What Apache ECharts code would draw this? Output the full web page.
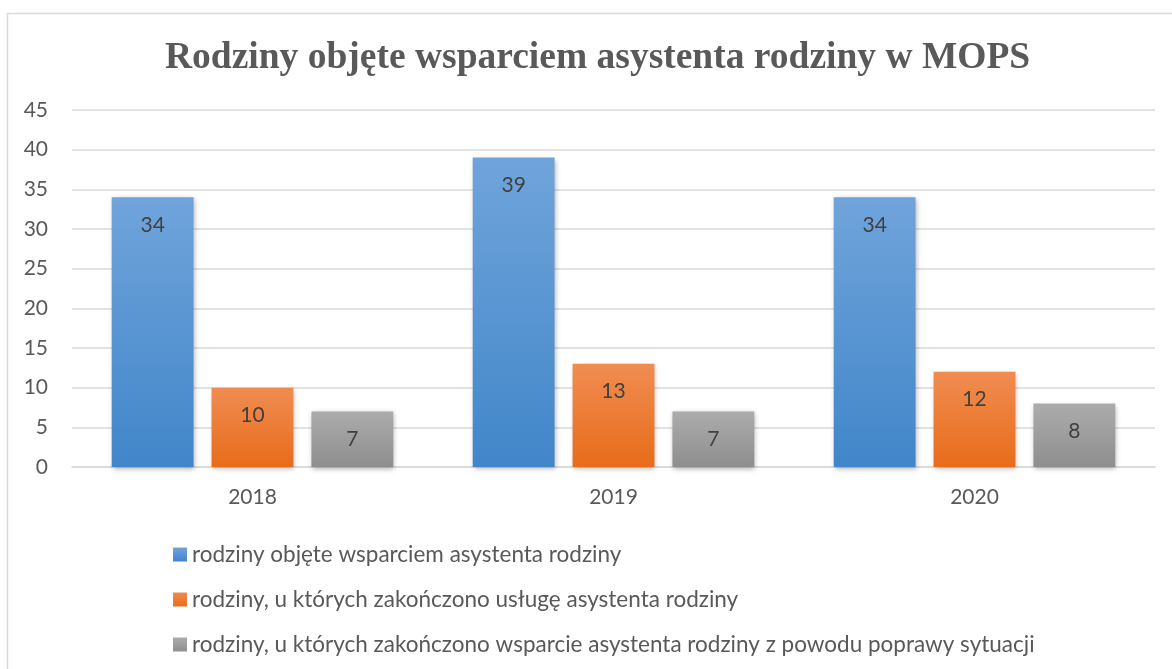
<!DOCTYPE html>
<html><head><meta charset="utf-8">
<script src="https://cdn.jsdelivr.net/npm/echarts@6/dist/echarts.min.js"></script>
<style>html,body{margin:0;padding:0;background:#fff}#c{width:1172px;height:669px}</style>
</head><body><div id="c"></div>
<script>
const title = 'Rodziny objęte wsparciem asystenta rodziny w MOPS';
const categories = ['2018', '2019', '2020'];
const seriesNames = [
  'rodziny objęte wsparciem asystenta rodziny',
  'rodziny, u których zakończono usługę asystenta rodziny',
  'rodziny, u których zakończono wsparcie asystenta rodziny z powodu poprawy sytuacji'
];
const supported = [34, 39, 34];
const ended = [10, 13, 12];
const improved = [7, 7, 8];
const yTicks = [0, 5, 10, 15, 20, 25, 30, 35, 40, 45];

const font = "Lato, 'Open Sans', sans-serif";
function grad(top, bottom) {
  return new echarts.graphic.LinearGradient(0, 0, 0, 1, [{offset: 0, color: top}, {offset: 1, color: bottom}]);
}
const fills = [grad('#70a4db', '#4186c9'), grad('#f08c52', '#e86c1a'), grad('#acacac', '#8e8e8e')];
const data = [supported, ended, improved];

const chart = echarts.init(document.getElementById('c'), null, {renderer: 'canvas'});
chart.setOption({
  animation: false,
  backgroundColor: '#fff',
  graphic: [{type: 'rect', shape: {x: 7.5, y: 13.5, width: 1200, height: 700}, style: {fill: 'none', stroke: '#d9d9d9', lineWidth: 1.5}, silent: true}],
  title: {text: title, left: 160, top: 34, textStyle: {fontFamily: "'Liberation Serif', 'DejaVu Serif', serif", fontWeight: 'bold', fontSize: 37.5, color: '#595959'}},
  grid: {left: 72, right: 17, top: 110, bottom: 202, containLabel: false},
  xAxis: {type: 'category', data: categories,
    axisLine: {lineStyle: {color: '#d9d9d9', width: 1.5}}, axisTick: {show: false},
    axisLabel: {color: '#595959', fontFamily: font, fontSize: 21, margin: 20}},
  yAxis: {type: 'value', min: yTicks[0], max: yTicks[yTicks.length - 1], interval: 5,
    axisLine: {show: false}, axisTick: {show: false},
    splitLine: {lineStyle: {color: '#d9d9d9', width: 1.5}},
    axisLabel: {color: '#595959', fontFamily: font, fontSize: 21, margin: 24, align: 'right'}},
  legend: {orient: 'vertical', left: 168, top: 538, itemGap: 22, itemWidth: 14, itemHeight: 14, icon: 'rect',
    textStyle: {color: '#595959', fontFamily: font, fontSize: 22.5},
    data: seriesNames},
  series: data.map((d, i) => ({
    name: seriesNames[i], type: 'bar', data: d,
    barGap: '22%', barCategoryGap: '22%',
    itemStyle: {color: fills[i], shadowColor: 'rgba(0,0,0,0.3)', shadowBlur: 5, shadowOffsetX: 1, shadowOffsetY: 2},
    label: {show: true, position: 'insideTop', distance: 17, color: '#404040', fontFamily: font, fontSize: 21}
  }))
});
</script></body></html>
